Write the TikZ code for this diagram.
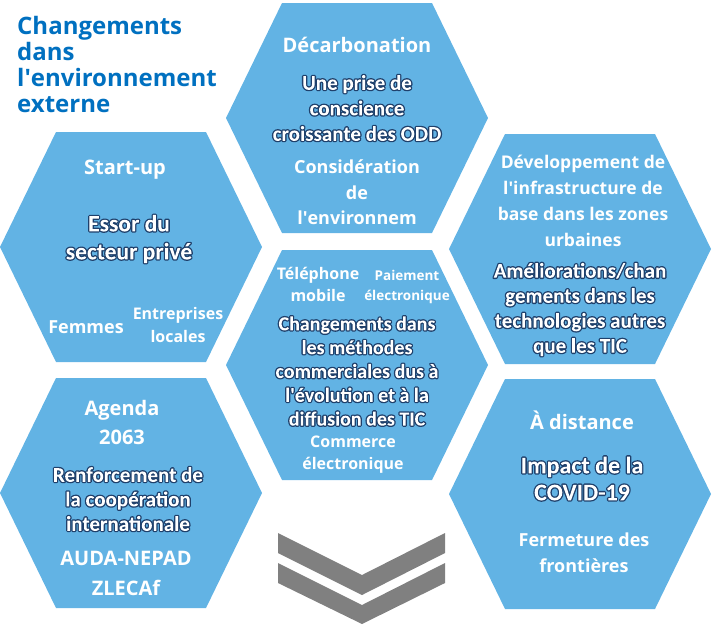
\documentclass[tikz,border=0pt]{standalone}
\usepackage{fontspec}
\setmainfont{Open Sans}
\newfontfamily\carlito{Carlito}
\usepackage{xcolor}
\usepackage{tikz}
\usetikzlibrary{positioning}
\definecolor{HexBlue}{RGB}{98,179,228}
\definecolor{TitleBlue}{RGB}{0,112,192}
\definecolor{ArrowGray}{RGB}{128,128,128}
% texte blanc avec un halo bleu foncé (contour trace puis lettres remplies en blanc)
\newcommand{\glow}[1]{{\special{pdf:literal direct q 5 Tr 1 j 2.6 w 0.12 0.25 0.42 RG}#1\special{pdf:literal direct 1 g -5000 -5000 10000 10000 re f Q}}}
\tikzset{
    hexa/.pic={\fill[HexBlue] (-131,0) -- (-75,-115) -- (75,-115) -- (131,0) -- (75,115) -- (-75,115) -- cycle;},
    hexlabel/.style={text=white, align=center, inner sep=0pt, font=\bfseries\fontsize{20}{26}\selectfont},
    glowlabel/.style={text=white, align=center, inner sep=0pt, font=\carlito\bfseries\fontsize{21}{25.5}\selectfont}
}

\begin{document}
\begin{tikzpicture}[
        x=1pt, y=-1pt,
        % --- TITRE ---
        titletext/.style={text=TitleBlue, align=left, inner sep=0pt, font=\bfseries\fontsize{24}{26}\selectfont},
        % --- PETITES ETIQUETTES ---
        small/.style={hexlabel, font=\bfseries\fontsize{16}{22}\selectfont},
        medium/.style={hexlabel, font=\bfseries\fontsize{18}{25.5}\selectfont}
    ]
    \useasboundingbox (0,0) rectangle (714,624);

    % --- CENTRES DES HEXAGONES ---
    \coordinate (dec) at (357,118);
    \coordinate (tic) at (357,365);
    \coordinate (prive) at (131,247);
    \coordinate (coop) at (131,493);
    \coordinate (infra) at (580,249);
    \coordinate (covid) at (580,494);

    % --- TITRE ---
    \node[titletext, anchor=west] (title) at (17,64.5) {Changements\\dans\\l\textquotesingle environnement\\externe};

    % --- HEXAGONE : Décarbonation ---
    \pic (hexdec) at (dec) {hexa};
    \node[hexlabel] (decTop) at (357,45) {Décarbonation};
    \node[glowlabel] (decMain) at (357,108) {\glow{Une prise de}\\\glow{conscience}\\\glow{croissante des ODD}};
    \node[medium] (decEnv) at (357,205) {Considération\\de\\l\textquotesingle environnem\\ent};

    % --- HEXAGONE : secteur privé ---
    \pic (hexprive) at (prive) {hexa};
    \node[hexlabel] (priveTop) at (125,170) {Start-up};
    \node[glowlabel, font=\carlito\bfseries\fontsize{23.5}{28}\selectfont] (priveMain) at (129,239) {\glow{Essor du}\\\glow{secteur privé}};
    \node[medium] (priveFem) at (86,327) {Femmes};
    \node[small, font=\bfseries\fontsize{16}{23}\selectfont] (priveEnt) at (178,325) {Entreprises\\locales};

    % --- HEXAGONE : infrastructure ---
    \pic (hexinfra) at (infra) {hexa};
    \node[medium, font=\bfseries\fontsize{17.5}{26}\selectfont] (infraTop) at (583,201) {Développement de\\l\textquotesingle infrastructure de\\base dans les zones\\urbaines};
    \node[glowlabel, font=\carlito\bfseries\fontsize{21}{25}\selectfont] (infraMain) at (580,309.5) {\glow{Améliorations/chan}\\\glow{gements dans les}\\\glow{technologies autres}\\\glow{que les TIC}};

    % --- HEXAGONE : TIC (centre) ---
    \pic (hextic) at (tic) {hexa};
    \node[small] (ticTel) at (318,284) {Téléphone\\mobile};
    \node[small, font=\bfseries\fontsize{13.5}{20}\selectfont] (ticPay) at (407,287) {Paiement\\électronique};
    \node[glowlabel, font=\carlito\bfseries\fontsize{20}{23.8}\selectfont] (ticMain) at (357,371) {\glow{Changements dans}\\\glow{les méthodes}\\\glow{commerciales dus à}\\\glow{l\textquotesingle évolution et à la}\\\glow{diffusion des TIC}};
    \node[small] (ticCom) at (353,455) {Commerce\\électronique};

    % --- HEXAGONE : coopération ---
    \pic (hexcoop) at (coop) {hexa};
    \node[hexlabel, font=\bfseries\fontsize{20}{29}\selectfont] (coopTop) at (122,422) {Agenda\\2063};
    \node[glowlabel, font=\carlito\bfseries\fontsize{21}{24.5}\selectfont] (coopMain) at (128,499) {\glow{Renforcement de}\\\glow{la coopération}\\\glow{internationale}};
    \node[hexlabel] (coopAuda) at (126,558) {AUDA-NEPAD};
    \node[hexlabel] (coopZle) at (126,588) {ZLECAf};

    % --- HEXAGONE : COVID-19 ---
    \pic (hexcovid) at (covid) {hexa};
    \node[hexlabel] (covidTop) at (582,420) {À distance};
    \node[glowlabel, font=\carlito\bfseries\fontsize{24}{27}\selectfont] (covidMain) at (582,478.5) {\glow{Impact de la}\\\glow{COVID-19}};
    \node[medium] (covidFer) at (584,552.5) {Fermeture des\\frontières};

    % --- CHEVRONS ---
    \fill[ArrowGray] (278,533) -- (362,575) -- (445,533) -- (445,553) -- (362,595) -- (278,553) -- cycle;
    \fill[ArrowGray] (278,563) -- (362,605) -- (445,563) -- (445,583) -- (362,624) -- (278,583) -- cycle;

\end{tikzpicture}
\end{document}
